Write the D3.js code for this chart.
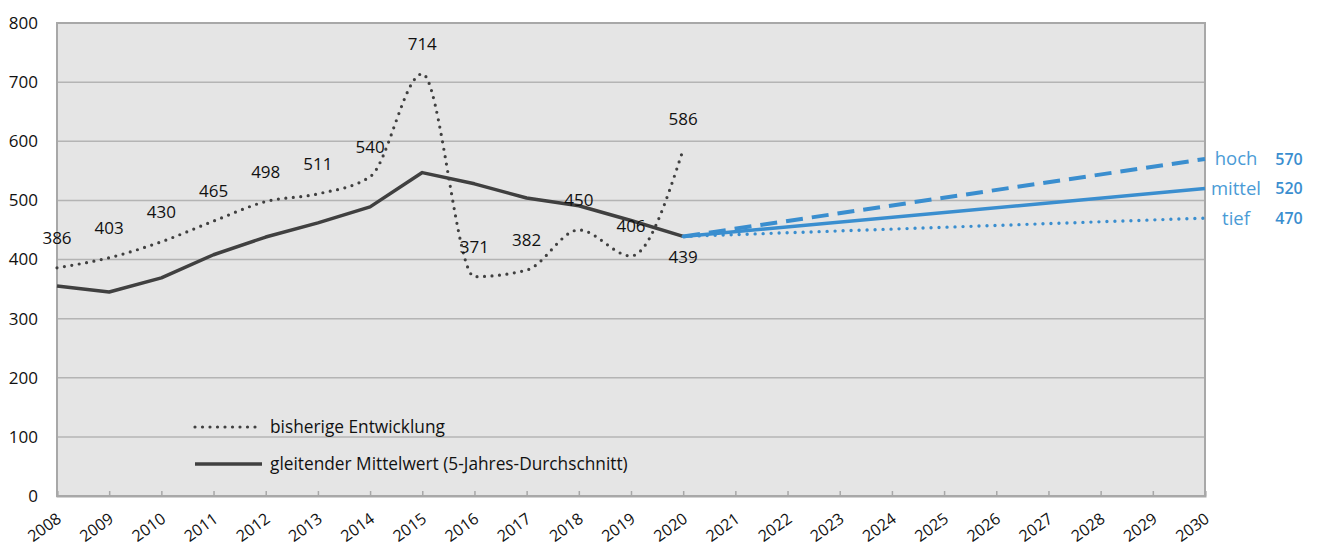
<!DOCTYPE html>
<html>
<head>
<meta charset="utf-8">
<script src="https://cdn.jsdelivr.net/npm/d3@7"></script>
<style>
  body { margin: 0; background: #fff; }
  svg { display: block; font-family: "Open Sans", sans-serif; }
</style>
</head>
<body>
<div id="chart"></div>
<script>
// data
let years = d3.range(2008, 2031)
let histYears = d3.range(2008, 2021)
let actual = [386, 403, 430, 465, 498, 511, 540, 714, 371, 382, 450, 406, 586]
let movingAvg = [355, 345, 369, 408, 438, 462, 489, 547, 528, 504, 491, 466, 439]
let scenYears = [2020, 2030]
let scenNames = ['hoch', 'mittel', 'tief']
let scenValues = {
  hoch: [439, 570],
  mittel: [439, 520],
  tief: [439, 470]
}
let yTicks = [0, 100, 200, 300, 400, 500, 600, 700, 800]

let margin = { top: 23, left: 57, right: 114, bottom: 54 },
  width = 1319 - margin.left - margin.right,
  height = 550 - margin.top - margin.bottom

let svg = d3.select('#chart')
  .append('svg')
  .attr('width', 1319)
  .attr('height', 550)

let g = svg.append('g')
  .attr('transform', 'translate(' + margin.left + ',' + margin.top + ')')

let x = d3.scaleLinear().domain([2008, 2030]).range([0, width])
let y = d3.scaleLinear().domain([0, 800]).range([height, 0])

// plot background
g.append('rect')
  .attr('width', width)
  .attr('height', height)
  .attr('fill', '#e5e5e5')

// gridlines
g.append('g')
  .selectAll('line')
  .data(yTicks.filter(d => d > 0))
  .enter()
  .append('line')
  .attr('x1', 0)
  .attr('x2', width)
  .attr('y1', d => y(d))
  .attr('y2', d => y(d))
  .attr('stroke', '#b4b4b4')
  .attr('stroke-width', 1.5)

// border
g.append('rect')
  .attr('width', width)
  .attr('height', height)
  .attr('fill', 'none')
  .attr('stroke', '#a8a8a8')
  .attr('stroke-width', 2)

// y axis
let yAxis = d3.axisLeft(y).tickValues(yTicks).tickSize(0).tickPadding(19)
g.append('g')
  .call(yAxis)
  .call(a => a.select('.domain').remove())
  .selectAll('text')
  .attr('font-size', 17)
  .attr('font-family', '"Open Sans", sans-serif')
  .attr('fill', '#111')

// x axis
let xAxis = d3.axisBottom(x).tickValues(years).tickFormat(d3.format('d')).tickSize(-5).tickPadding(0)
let xg = g.append('g')
  .attr('transform', 'translate(0,' + height + ')')
  .call(xAxis)
xg.select('.domain').attr('stroke', '#a8a8a8').attr('stroke-width', 2)
xg.selectAll('.tick line').attr('stroke', '#a8a8a8').attr('stroke-width', 1.5)
xg.selectAll('text')
  .attr('font-size', 16)
  .attr('font-family', '"Open Sans", sans-serif')
  .attr('fill', '#111')
  .attr('text-anchor', 'end')
  .attr('dy', 0)
  .attr('transform', 'translate(5,25) rotate(-36)')

// lines
let lineHist = d3.line()
  .x((d, i) => x(histYears[i]))
  .y(d => y(d))
  .curve(d3.curveMonotoneX)

g.append('path')
  .datum(actual)
  .attr('d', lineHist)
  .attr('fill', 'none')
  .attr('stroke', '#404040')
  .attr('stroke-width', 3.2)
  .attr('stroke-linecap', 'round')
  .attr('stroke-dasharray', '0,7.5')

g.append('path')
  .datum(movingAvg)
  .attr('d', lineHist.curve(d3.curveLinear))
  .attr('fill', 'none')
  .attr('stroke', '#404040')
  .attr('stroke-width', 3.5)
  .attr('stroke-linejoin', 'round')

// scenarios
let blue = '#3a8ecf'
let scenStyle = {
  hoch: { dash: '17,9', cap: 'butt', w: 4 },
  mittel: { dash: null, cap: 'butt', w: 3.5 },
  tief: { dash: '0,8', cap: 'round', w: 3.4 }
}
let lineScen = d3.line()
  .x((d, i) => x(scenYears[i]))
  .y(d => y(d))

scenNames.forEach(function (n) {
  g.append('path')
    .datum(scenValues[n])
    .attr('d', lineScen)
    .attr('fill', 'none')
    .attr('stroke', blue)
    .attr('stroke-width', scenStyle[n].w)
    .attr('stroke-linecap', scenStyle[n].cap)
    .attr('stroke-dasharray', scenStyle[n].dash)
})

// scenario labels
scenNames.forEach(function (n) {
  let v = scenValues[n][1]
  g.append('text')
    .attr('x', width + 31)
    .attr('y', y(v))
    .attr('dy', '0.35em')
    .attr('text-anchor', 'middle')
    .attr('font-size', 18.5)
    .attr('fill', '#4a9bd6')
    .text(n)
  g.append('text')
    .attr('x', width + 84)
    .attr('y', y(v))
    .attr('dy', '0.35em')
    .attr('text-anchor', 'middle')
    .attr('font-size', 16)
    .attr('font-weight', 600)
    .attr('fill', '#3a8ecf')
    .text(v)
})

// data labels
g.append('g')
  .selectAll('text')
  .data(actual)
  .enter()
  .append('text')
  .attr('x', (d, i) => x(histYears[i]))
  .attr('y', d => y(d) - 30)
  .attr('dy', '0.35em')
  .attr('text-anchor', 'middle')
  .attr('font-size', 17)
  .attr('fill', '#111')
  .text(d => d)

let lastAvg = movingAvg[movingAvg.length - 1]
g.append('text')
  .attr('x', x(2020))
  .attr('y', y(lastAvg) + 21)
  .attr('dy', '0.35em')
  .attr('text-anchor', 'middle')
  .attr('font-size', 17)
  .attr('fill', '#111')
  .text(lastAvg)

// legend
let legend = [
  { label: 'bisherige Entwicklung', dash: '0,7.5', cap: 'round', w: 3.2 },
  { label: 'gleitender Mittelwert (5-Jahres-Durchschnitt)', dash: null, cap: 'butt', w: 3.5 }
]
let lg = g.append('g').attr('transform', 'translate(138,404)')
legend.forEach(function (d, i) {
  lg.append('line')
    .attr('x1', 0)
    .attr('x2', 67)
    .attr('y1', i * 37)
    .attr('y2', i * 37)
    .attr('stroke', '#404040')
    .attr('stroke-width', d.w)
    .attr('stroke-linecap', d.cap)
    .attr('stroke-dasharray', d.dash)
  lg.append('text')
    .attr('x', 75)
    .attr('y', i * 37)
    .attr('dy', '0.35em')
    .attr('font-size', 17.3)
    .attr('fill', '#111')
    .text(d.label)
})
</script>
</body>
</html>
